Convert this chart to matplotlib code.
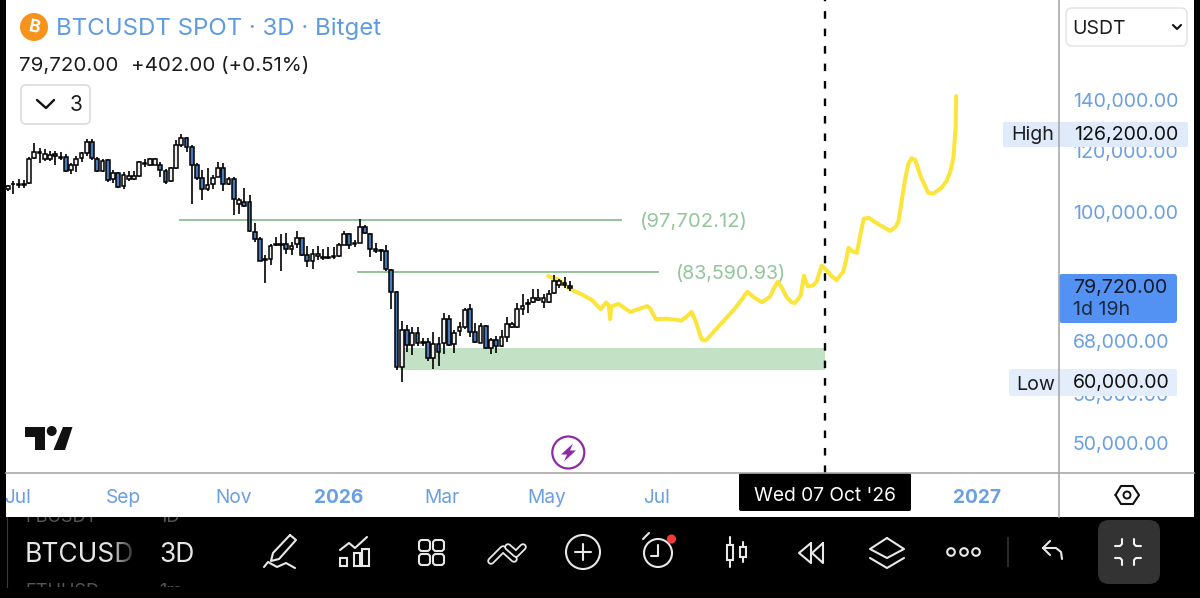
"""BTCUSDT 3D candles with drawn projection, mobile chart screenshot"""
import matplotlib
matplotlib.use("Agg")
import matplotlib.pyplot as plt
import numpy as np
from matplotlib.patches import Circle, FancyBboxPatch, Polygon, Rectangle

plt.rcParams['font.family'] = ['Inter', 'DejaVu Sans']

# 3D candles, one value per bar
opens = [107200, 108600, 108450, 108500, 109000, 117500, 119700, 117100, 117100, 118900,
         118100, 117800, 113400, 115300, 117600, 119400, 123400, 117400, 113000, 116900,
         110300, 112500, 108100, 110300, 110300, 111500, 115500, 115300, 115300, 115300,
         113200, 109700, 114100, 122100, 124700, 121400, 115000, 110700, 107100, 108600,
         111000, 114000, 108600, 110500, 102500, 103000, 102900, 94300, 92100, 86900,
         86900, 90500, 90700, 90900, 89400, 90800, 92400, 87900, 86200, 87600,
         87400, 87200, 87300, 87700, 90700, 93600, 91200, 91200, 95500, 93600,
         89400, 89200, 88900, 84000, 78600, 62800, 70200, 67100, 69600, 67800,
         67800, 64600, 67200, 67500, 72500, 67300, 69900, 70800, 74700, 69800,
         67600, 71100, 66400, 68100, 66800, 68800, 70800, 70800, 74700, 76200,
         76300, 76800, 76300, 76300, 78500, 80400, 80700, 80100]
highs = [108500, 109800, 110300, 110100, 117800, 123100, 121000, 120700, 120200, 120000,
         119700, 119000, 115700, 118300, 119800, 124400, 124500, 118100, 117400, 117400,
         113400, 112800, 112800, 113200, 113200, 116700, 117100, 117700, 117500, 116300,
         113600, 114500, 124100, 126300, 125300, 122200, 116000, 113400, 114000, 111800,
         116300, 116000, 111200, 111000, 104200, 107400, 105200, 96800, 92800, 87900,
         90900, 92800, 93500, 93900, 91400, 94500, 92500, 90300, 89400, 90400,
         89400, 90100, 89900, 91000, 94500, 93900, 91900, 97800, 96200, 93800,
         91200, 89400, 90500, 84200, 78800, 72100, 71200, 70800, 70900, 68500,
         68500, 69800, 68700, 73800, 73400, 70200, 71900, 74900, 75800, 71600,
         71600, 71200, 68500, 68900, 70200, 73000, 71900, 76000, 78300, 77000,
         79300, 79300, 78200, 79100, 82700, 81900, 82300, 81300]
lows = [106600, 105400, 107400, 107400, 108700, 117100, 116000, 116700, 116500, 115000,
        116900, 112700, 112000, 112800, 116300, 118300, 116900, 112700, 112700, 109500,
        109200, 107400, 107200, 109700, 110100, 111200, 114500, 114900, 115000, 111200,
        108700, 109300, 113900, 121600, 119800, 102500, 110100, 103700, 106500, 107000,
        111000, 106600, 108300, 99000, 99300, 101600, 94100, 91400, 86200, 80700,
        85300, 90300, 83800, 88200, 87900, 89700, 87600, 84900, 84400, 86600,
        86600, 86800, 86900, 87400, 90500, 89400, 90100, 91000, 93600, 87400,
        88500, 86200, 83800, 74700, 62200, 60000, 65800, 65100, 66900, 66800,
        64000, 62500, 63000, 65400, 66900, 65600, 68900, 70300, 68800, 67500,
        67500, 66200, 65300, 65600, 66600, 67800, 70600, 70600, 73400, 73800,
        76000, 76600, 74900, 76100, 78200, 79500, 79500, 78900]
closes = [108100, 108800, 108800, 108800, 117400, 119700, 119300, 119100, 118800, 118400,
          117700, 113200, 115000, 117400, 119200, 123400, 117500, 113000, 116700, 110100,
          112500, 107900, 111800, 111500, 111500, 116100, 116000, 117100, 117100, 113400,
          109500, 114000, 122100, 124700, 121600, 115000, 110700, 107200, 108300, 110900,
          114000, 108600, 110500, 104100, 103700, 101800, 94500, 92300, 86400, 86700,
          90300, 90800, 90900, 89400, 90400, 92500, 87900, 86200, 88200, 88200,
          87100, 87400, 87600, 90500, 93600, 90500, 90800, 95500, 93800, 89500,
          89000, 88900, 84200, 78700, 62800, 70100, 67100, 69600, 67500, 67500,
          64600, 67200, 65700, 72500, 67100, 69600, 70800, 74500, 69800, 67800,
          71100, 66400, 68100, 66800, 68700, 71500, 71500, 74700, 75400, 75800,
          77200, 77200, 77300, 78300, 81300, 81300, 80300, 79720]

# hand drawn projection, x in bars
path_x = [102.9, 104.8, 107.0, 109.6, 111.2, 112.9, 113.9, 114.4, 114.7, 114.9,
          116.3, 118.5, 120.3, 121.7, 122.3, 123.4, 125.5, 128.3, 129.5, 130.2,
          130.9, 132.1, 132.6, 133.1, 135.8, 138.5, 140.0, 140.8, 142.2, 143.6,
          145.1, 146.0, 146.6, 147.3, 148.3, 149.2, 149.9, 151.0, 151.6, 152.0,
          152.4, 153.3, 154.0, 155.0, 155.5, 156.8, 157.8, 159.1, 159.7, 160.1,
          160.9, 161.7, 162.4, 163.0, 163.9, 166.0, 168.0, 169.0, 169.6, 170.9,
          171.5, 172.1, 172.8, 173.9, 175.3, 176.3, 177.8, 178.8, 179.6, 180.1,
          180.5, 180.6]
path_y = [82500, 81700, 79400, 77900, 76800, 74700, 76200, 75600, 72500, 75300,
          75900, 74100, 74800, 75400, 74900, 72500, 72600, 72200, 73300, 74100,
          72300, 68300, 68000, 68200, 71500, 74900, 77300, 78700, 77300, 76300,
          77500, 79800, 81100, 79900, 77500, 76300, 76100, 77900, 82600, 81000,
          80000, 80200, 81100, 85100, 84600, 82600, 81500, 83600, 87000, 89800,
          88800, 88500, 93800, 98000, 98300, 96200, 94500, 95500, 97100, 110600,
          115500, 117500, 116900, 111000, 105900, 105700, 107600, 109800, 113500, 118000,
          129000, 141600]

resistance_levels = [97702.12, 83590.93]
resistance_labels = ["(97,702.12)", "(83,590.93)"]
zone_low = 62300
zone_high = 66500

price_ticks = [140000, 120000, 100000, 68000, 58000, 50000]
price_labels = ["140,000.00", "120,000.00", "100,000.00", "68,000.00", "58,000.00", "50,000.00"]
time_ticks = [1.9, 21.9, 42.9, 62.9, 82.7, 102.7, 123.6, 184.6]
time_labels = ["Jul", "Sep", "Nov", "2026", "Mar", "May", "Jul", "2027"]
cursor_bar = 155.6

BLUE_TEXT = '#6a9fe3'
GREEN = '#8cbf90'
GREEN_TEXT = '#92c79b'
YELLOW = '#fbe53a'

fig = plt.figure(figsize=(12, 5.98), dpi=100, facecolor='white')
ax = fig.add_axes([6 / 1200, 125 / 598, 1052 / 1200, 473 / 598])
bars = np.arange(len(opens))
opens = np.array(opens)
closes = np.array(closes)

ax.fill_betweenx([zone_low, zone_high], 74.7, cursor_bar, color='#c3e2c5', linewidth=0, zorder=1)
ax.plot([32.8, 116.8], [resistance_levels[0]] * 2, color=GREEN, linewidth=1.3, zorder=2)
ax.plot([66.7, 123.8], [resistance_levels[1]] * 2, color=GREEN, linewidth=1.3, zorder=2)
ax.text(120.3, resistance_levels[0], resistance_labels[0], color=GREEN_TEXT, fontsize=14.6, va='center_baseline', zorder=2)
ax.text(127.3, resistance_levels[1], resistance_labels[1], color=GREEN_TEXT, fontsize=14.2, va='center_baseline', zorder=2)

ax.plot(path_x, path_y, color=YELLOW, linewidth=2.9, solid_joinstyle='round', solid_capstyle='round', zorder=3)
ax.axvline(cursor_bar, color='black', linewidth=1.7, linestyle=(0, (3.2, 4.2)), zorder=4)

ax.vlines(bars, lows, highs, color='black', linewidth=1.2, zorder=5)
colors = ['#f0f0f0' if c >= o else '#4a78b8' for o, c in zip(opens, closes)]
ax.bar(bars, np.abs(closes - opens), bottom=np.minimum(opens, closes), width=0.74, color=colors,
       edgecolor='black', linewidth=1.1, zorder=6)

ax.set_yscale('log')
ax.set_xlim(-0.381, 200)
ax.set_ylim(45700, 188900)
ax.minorticks_off()
ax.set_yticks(price_ticks, price_labels)
ax.set_xticks(time_ticks, time_labels)
ax.yaxis.set_minor_locator(matplotlib.ticker.NullLocator())
ax.yaxis.tick_right()
ax.tick_params(axis='y', length=0, pad=10.6, labelsize=14.1, labelcolor=BLUE_TEXT)
ax.tick_params(axis='x', length=0, pad=11.5, labelsize=13.8, labelcolor=BLUE_TEXT)
for label in ax.get_xticklabels():
    if label.get_text() in ("2026", "2027"):
        label.set_fontweight('bold')
for spine in ax.spines.values():
    spine.set_visible(False)

# screenshot chrome, in picture pixels
ui = fig.add_axes([0, 0, 1, 1], zorder=10)
ui.set_xlim(0, 1200)
ui.set_ylim(598, 0)
ui.axis('off')


def box(x0, y0, x1, y1, radius=0, **kw):
    kw.setdefault('linewidth', 0)
    ui.add_patch(FancyBboxPatch((x0 + radius, y0 + radius), x1 - x0 - 2 * radius, y1 - y0 - 2 * radius,
                                boxstyle=f"round,pad={radius},rounding_size={radius}", **kw))


def stroke(xs, ys, color='#e8e8e8', lw=1.5, **kw):
    ui.plot(xs, ys, color=color, linewidth=lw, solid_capstyle='round', solid_joinstyle='round', **kw)


def ring(x, y, r, color='#e8e8e8', lw=1.5):
    ui.add_patch(Circle((x, y), r, fill=False, edgecolor=color, linewidth=lw))


# frame
ui.plot([1058.5, 1058.5], [0, 517], color='#a9a9a9', linewidth=1.2)
ui.plot([6, 1194], [473, 473], color='#a9a9a9', linewidth=1.2)
ui.add_patch(Rectangle((0, 0), 6, 598, color='black', linewidth=0))
ui.add_patch(Rectangle((1194, 0), 6, 598, color='black', linewidth=0))
ui.add_patch(Rectangle((0, 517), 1200, 81, color='black', linewidth=0))

# header
ui.add_patch(Circle((34, 27), 14, color='#f7931a', linewidth=0))
ui.text(34, 27.5, "B", color='white', fontsize=12.5, fontweight='bold', ha='center', va='center', rotation=-12)
ui.text(56, 29, "BTCUSDT SPOT \u00b7 3D \u00b7 Bitget", color='#5f9be3', fontsize=17.3, va='center')
ui.text(19, 66, "79,720.00", color='#1c1c1c', fontsize=14.8, va='center')
ui.text(131, 66, "+402.00 (+0.51%)", color='#1c1c1c', fontsize=14.8, va='center')
box(21, 85, 90, 124, radius=5, facecolor='white', edgecolor='#dcdcdc', linewidth=1.2)
stroke([37, 46, 54], [100, 108, 100], color='#111111', lw=1.7)
ui.text(76, 105, "3", color='#1c1c1c', fontsize=15, ha='center', va='center')

# currency selector
box(1066, 8, 1187, 46, radius=6, facecolor='white', edgecolor='#e6e6e6', linewidth=1.2)
ui.text(1072, 28.5, "USDT", color='#1c1c1c', fontsize=14, va='center')
stroke([1173, 1177, 1181], [25, 29, 25], color='#111111', lw=1.5)

# high, last and low labels
box(1003, 122, 1188, 147, radius=2, facecolor='#dfeafa')
ui.text(1011, 135, "High", color='#1c1c1c', fontsize=14.1, va='center')
ui.text(1074, 135, "126,200.00", color='#111111', fontsize=14.1, va='center')
box(1009, 369, 1177, 396, radius=2, facecolor='#e3edfb')
ui.text(1016, 385, "Low", color='#1c1c1c', fontsize=14.1, va='center')
ui.text(1073, 383, "60,000.00", color='#111111', fontsize=14.1, va='center')
box(1059, 274, 1177, 323, radius=3, facecolor='#5392f2')
ui.text(1073, 288, "79,720.00", color='#111827', fontsize=14.1, va='center')
ui.text(1073, 310, "1d 19h", color='#1b2a44', fontsize=14.1, va='center')

# logo and lightning badge
ui.add_patch(Polygon([(24.5, 427), (45, 427), (45, 450), (35, 450), (35, 437), (24.5, 437)], color='#111111', linewidth=0))
ui.add_patch(Circle((51.7, 431), 5, color='#111111', linewidth=0))
ui.add_patch(Polygon([(63, 427), (72.5, 427), (65, 450), (53.5, 450)], color='#111111', linewidth=0))
ring(568.3, 452.5, 16, color='#8e2aa8', lw=1.6)
ui.add_patch(Polygon([(573, 443.5), (561, 454.5), (567, 454.5), (564, 461.5), (576, 450.5), (570, 450.5)], color='#8e2aa8', linewidth=0))

# cursor date and settings
box(739, 473, 911, 511, radius=2, facecolor='black')
ui.text(825, 496, "Wed 07 Oct '26", color='white', fontsize=13.8, ha='center', va='center')
hex_x = [1115.5, 1121, 1133, 1139, 1133, 1121, 1115.5]
hex_y = [495, 486, 486, 495, 504, 504, 495]
stroke(hex_x, hex_y, color='#111111', lw=1.5)
ring(1127, 495, 3.5, color='#111111', lw=1.4)

# toolbar
clip = Rectangle((6, 517), 190, 70, transform=ui.transData)
ui.plot([6.5, 6.5], [517, 587], color='#3a3a3a', linewidth=0.8)
for txt, x, y in [("FBUSDT", 25, 517), ("1D", 159, 517), ("ETHUSD", 25, 592), ("1m", 159, 592)]:
    t = ui.text(x, y, txt, color='#555555', fontsize=13, va='center', clip_on=True)
    t.set_clip_path(clip)
ui.text(25, 554.5, "BTCUSD", color='#e6e6e6', fontsize=19, va='center')
# the symbol name fades out towards the interval
for k in range(14):
    ui.add_patch(Rectangle((110 + k * 2, 535), 2, 36, color='black', alpha=0.065 * (k + 1), linewidth=0, zorder=5))
ui.text(159, 554.5, "3D", color='#e6e6e6', fontsize=19, va='center')

stroke([290, 296, 279, 271, 273, 290], [535, 540, 559, 561, 553, 535])
stroke([264, 268, 277, 286, 295], [567, 562, 567, 563, 568])

stroke([340, 349, 355, 367], [550, 543, 548, 537])
for x0, x1, y0 in [(340, 347, 558), (354, 360, 553), (362, 369, 549)]:
    ui.add_patch(Rectangle((x0, y0), x1 - x0, 566 - y0, fill=False, edgecolor='#e8e8e8', linewidth=1.5))

for x0 in (419, 433):
    for y0 in (540, 554):
        box(x0, y0, x0 + 11, y0 + 11, radius=3, facecolor='none', edgecolor='#e8e8e8', linewidth=1.5)

stroke([491, 503, 514], [561, 549, 559], lw=5.4)
stroke([491, 503, 514], [561, 549, 559], color='black', lw=2.8)
stroke([508, 516, 523], [547, 554, 547], lw=5.4)
stroke([508, 516, 523], [547, 554, 547], color='black', lw=2.8)

ring(583, 552, 17)
stroke([575, 591], [552, 552])
stroke([583, 583], [544, 560])

ring(658, 553, 14)
stroke([658, 658, 651], [545, 556, 556])
stroke([643, 649], [539, 533])
ui.add_patch(Circle((671.5, 539), 4.6, color='#ee3b3b', linewidth=0))

stroke([730, 730], [537, 545])
stroke([730, 730], [560, 567])
ui.add_patch(Rectangle((727, 545), 6, 15, fill=False, edgecolor='#e8e8e8', linewidth=1.5))
stroke([743, 743], [542, 547])
stroke([743, 743], [557, 562])
ui.add_patch(Rectangle((740, 547), 6, 10, fill=False, edgecolor='#e8e8e8', linewidth=1.5))

stroke([811, 799, 811, 811], [543, 553, 563, 543])
stroke([823, 812, 823, 823], [543, 553, 563, 543])

stroke([887, 904, 887, 870, 887], [538, 549, 558, 549, 538])
stroke([870, 887, 904], [558, 568, 558])

for x in (951, 964, 976):
    ring(x, 552, 3.8)

ui.plot([1008, 1008], [538, 566], color='#333333', linewidth=1.2)

stroke([1062, 1061, 1056, 1043], [559, 552, 548, 548])
stroke([1050, 1043, 1050], [541, 548, 555])

box(1098, 520, 1160, 584, radius=11, facecolor='#333333')
stroke([1115, 1120, 1122, 1122], [546, 546, 544, 539], color='#f0f0f0')
stroke([1141, 1136, 1134, 1134], [546, 546, 544, 539], color='#f0f0f0')
stroke([1115, 1120, 1122, 1122], [558, 558, 560, 565], color='#f0f0f0')
stroke([1141, 1136, 1134, 1134], [558, 558, 560, 565], color='#f0f0f0')

plt.savefig("out.png", dpi=100, facecolor='white')
plt.close()
